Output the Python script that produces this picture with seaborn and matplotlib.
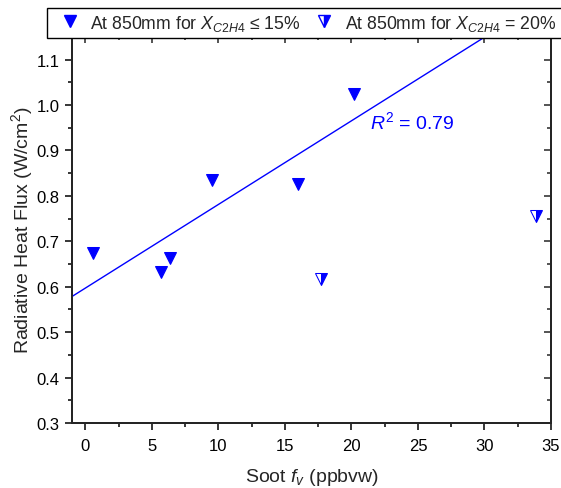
import numpy as np
import pandas as pd
import matplotlib
matplotlib.use("Agg")
import matplotlib.pyplot as plt
import seaborn as sns
from matplotlib.ticker import MultipleLocator, FormatStrFormatter
from matplotlib.patches import Rectangle

# Soot volume fraction (ppbvw) and radiative heat flux (W/cm^2)
soot_low = [0.6, 5.7, 6.4, 9.5, 16.0, 20.2]
flux_low = [0.675, 0.633, 0.663, 0.835, 0.826, 1.025]
soot_high = [17.7, 33.9]
flux_high = [0.617, 0.755]

label_low = r"At 850mm for $X_{C2H4}$ ≤ 15%"
label_high = r"At 850mm for $X_{C2H4}$ = 20%"

sns.set_theme(style="ticks")
plt.rcParams["font.family"] = ["Liberation Sans", "DejaVu Sans"]
plt.rcParams["mathtext.fontset"] = "custom"
plt.rcParams["mathtext.rm"] = "Liberation Sans"
plt.rcParams["mathtext.it"] = "Liberation Sans:italic"

blue = "#0000ff"
W, H = 561, 489

fig = plt.figure(figsize=(W / 100, H / 100), dpi=100)
ax = fig.add_axes([72 / W, 1 - 424 / H, 479 / W, 387 / H])

df_low = pd.DataFrame({"soot": soot_low, "flux": flux_low})
df_high = pd.DataFrame({"soot": soot_high, "flux": flux_high})

sns.lineplot(data=df_low, x="soot", y="flux", ax=ax, estimator=None,
             linestyle="", marker="v", markersize=9, color=blue,
             markeredgecolor=blue, legend=False)
sns.lineplot(data=df_high, x="soot", y="flux", ax=ax, estimator=None,
             linestyle="", marker="v", markersize=9, color=blue,
             markeredgecolor=blue, fillstyle="right",
             markerfacecoloralt="white", legend=False)

# Linear fit over the lower-ethylene series
slope, intercept = np.polyfit(soot_low, flux_low, 1)
pred = np.polyval([slope, intercept], soot_low)
ss_res = np.sum((np.array(flux_low) - pred) ** 2)
ss_tot = np.sum((np.array(flux_low) - np.mean(flux_low)) ** 2)
r2 = 1 - ss_res / ss_tot

xlim = (-1, 35)
ylim = (0.3, 1.152)
xfit = np.linspace(xlim[0], xlim[1], 200)
ax.plot(xfit, slope * xfit + intercept, color=blue, lw=1.0, zorder=1)
ax.text(24.6, 0.965, rf"$R^2$ = {r2:.2f}", color=blue, fontsize=14,
        ha="center", va="center")

ax.set_xlim(*xlim)
ax.set_ylim(*ylim)
ax.xaxis.set_major_locator(MultipleLocator(5))
ax.xaxis.set_minor_locator(MultipleLocator(2.5))
ax.yaxis.set_major_locator(MultipleLocator(0.1))
ax.yaxis.set_minor_locator(MultipleLocator(0.05))
ax.yaxis.set_major_formatter(FormatStrFormatter("%.1f"))

ax.set_xlabel(r"Soot $f_v$ (ppbvw)", fontsize=14, labelpad=9)
ax.set_ylabel(r"Radiative Heat Flux (W/cm$^2$)", fontsize=14, labelpad=1)

for s in ax.spines.values():
    s.set_linewidth(1.3)
    s.set_color("black")
ax.tick_params(which="both", direction="out", width=1.1, colors="black",
               labelsize=12)
ax.tick_params(axis="x", pad=6)
ax.tick_params(axis="y", pad=4)
ax.tick_params(which="major", length=5)
ax.tick_params(which="minor", length=3)

# Mirrored inward ticks on the top and right edges
axt = ax.twiny()
axt.set_xlim(*xlim)
axt.xaxis.set_major_locator(MultipleLocator(5))
axt.xaxis.set_minor_locator(MultipleLocator(2.5))
axt.tick_params(which="both", direction="in", width=1.1, labeltop=False)
axt.tick_params(which="major", length=5)
axt.tick_params(which="minor", length=3)
axr = ax.twinx()
axr.set_ylim(*ylim)
axr.yaxis.set_major_locator(MultipleLocator(0.1))
axr.yaxis.set_minor_locator(MultipleLocator(0.05))
axr.tick_params(which="both", direction="in", width=1.1, labelright=False)
axr.tick_params(which="major", length=5)
axr.tick_params(which="minor", length=3)
for a in (axt, axr):
    for s in a.spines.values():
        s.set_linewidth(1.3)

# Legend box running off the right edge of the figure
fig.patches.append(Rectangle((47 / W, 1 - 39 / H), 530 / W, 30 / H,
                             transform=fig.transFigure, facecolor="white",
                             edgecolor="black", lw=1.0, zorder=0))

h_low = plt.Line2D([], [], linestyle="", marker="v", markersize=9,
                   color=blue, markeredgecolor=blue)
h_high = plt.Line2D([], [], linestyle="", marker="v", markersize=9,
                    color=blue, markeredgecolor=blue, fillstyle="right",
                    markerfacecoloralt="white")
leg = fig.legend([h_low, h_high], [label_low, label_high], ncol=2,
                 loc="center left", bbox_to_anchor=(61 / W, 1 - 23.5 / H),
                 fontsize=12.7, frameon=False, borderpad=0,
                 handletextpad=0.65, columnspacing=0.85, handlelength=1.0,
                 borderaxespad=0)

fig.savefig("out.png", dpi=100)
